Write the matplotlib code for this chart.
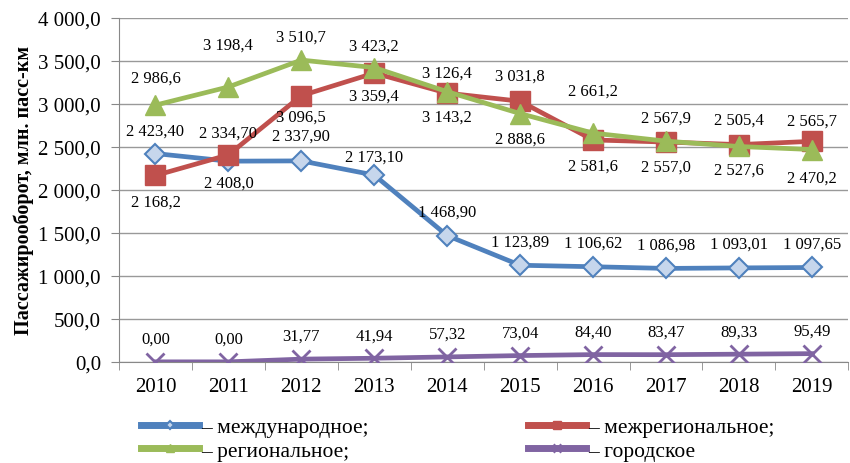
import numpy as np
import matplotlib
matplotlib.use('Agg')
import matplotlib.pyplot as plt
from matplotlib.ticker import FuncFormatter

plt.rcParams['font.family'] = ['Liberation Serif', 'DejaVu Serif']

# данные
years = ['2010', '2011', '2012', '2013', '2014', '2015', '2016', '2017', '2018', '2019']
intl = [2423.40, 2334.70, 2337.90, 2173.10, 1468.90, 1123.89, 1106.62, 1086.98, 1093.01, 1097.65]
interreg = [2168.2, 2408.0, 3096.5, 3359.4, 3126.4, 3031.8, 2581.6, 2557.0, 2527.6, 2565.7]
regional = [2986.6, 3198.4, 3510.7, 3423.2, 3143.2, 2888.6, 2661.2, 2567.9, 2505.4, 2470.2]
urban = [0.00, 0.00, 31.77, 41.94, 57.32, 73.04, 84.40, 83.47, 89.33, 95.49]

# смещение подписей в пикселях (+ сверху, - снизу)
intl_off = [23, 29, 25, 18, 24, 24, 24, 24, 24, 24]
interreg_off = [-26, -28, -21, -23, 20, 26, -26, -25, -25, 21]
regional_off = [27, 42, 23, 22, -25, -25, 42, 23, 27, -28]
urban_off = [23, 23, 23, 23, 23, 23, 23, 23, 23, 23]

BLUE = '#4F81BD'
RED = '#C0504D'
GREEN = '#9BBB59'
PURPLE = '#8064A2'


def ru(v, nd):
    s = f"{v:,.{nd}f}"
    return s.replace(',', ' ').replace('.', ',')


fig = plt.figure(figsize=(8.5, 4.64), dpi=100)
ax = fig.add_axes([0.140, 0.218, 0.858, 0.741])
x = np.arange(len(years))

l1, = ax.plot(x, intl, color=BLUE, lw=3.4, marker='D', ms=10, mfc='#C6D6EC', mec=BLUE, mew=1.5, zorder=3)
l2, = ax.plot(x, interreg, color=RED, lw=3.4, marker='s', ms=15, mfc=RED, mec=RED, zorder=4)
l3, = ax.plot(x, regional, color=GREEN, lw=3.4, marker='^', ms=14, mfc=GREEN, mec=GREEN, zorder=5)
l4, = ax.plot(x, urban, color=PURPLE, lw=3.4, marker='x', ms=13, mew=2, mec=PURPLE, zorder=3)

fs = 12
series = [(intl, intl_off, 2), (interreg, interreg_off, 1), (regional, regional_off, 1), (urban, urban_off, 2)]
for vals, offs, nd in series:
    for i, v in enumerate(vals):
        ax.annotate(ru(v, nd), (x[i], v), xytext=(0, offs[i]), textcoords='offset pixels',
                    ha='center', va='center', fontsize=fs, zorder=6)

ax.set_ylim(0, 4000)
ax.set_xlim(-0.5, len(years) - 0.5)
ax.set_yticks(np.arange(0, 4001, 500))
ax.yaxis.set_major_formatter(FuncFormatter(lambda v, p: ru(v, 1)))
ax.set_xticks(x)
ax.set_xticklabels(years)
ax.set_xticks(np.arange(-0.5, len(years), 1), minor=True)
ax.tick_params(axis='x', which='major', length=0, labelsize=15, pad=11)
ax.tick_params(axis='x', which='minor', length=6, color='#888888')
ax.tick_params(axis='y', length=6, color='#888888', labelsize=15, pad=7)
ax.grid(axis='y', color='#999999', lw=1)
ax.set_axisbelow(True)
for s in ['top', 'right']:
    ax.spines[s].set_visible(False)
for s in ['left', 'bottom']:
    ax.spines[s].set_color('#888888')
ax.set_ylabel('Пассажирооборот, млн. пасс-км', fontsize=14.5, fontweight='bold', labelpad=3)

leg_kw = dict(loc='upper left', frameon=False, fontsize=15.5, markerscale=0.4,
              handlelength=2.7, handletextpad=0.1, labelspacing=0.18,
              borderpad=0, borderaxespad=0)
leg1 = fig.legend([l1, l3], ['– международное;', '– региональное;'],
                  bbox_to_anchor=(141 / 850, 1 - 418 / 464), **leg_kw)
leg2 = fig.legend([l2, l4], ['– межрегиональное;', '– городское'],
                  bbox_to_anchor=(528 / 850, 1 - 418 / 464), **leg_kw)
for lg in (leg1, leg2):
    for h in lg.legend_handles:
        h.set_linewidth(5)

fig.savefig('out.png', dpi=100)
